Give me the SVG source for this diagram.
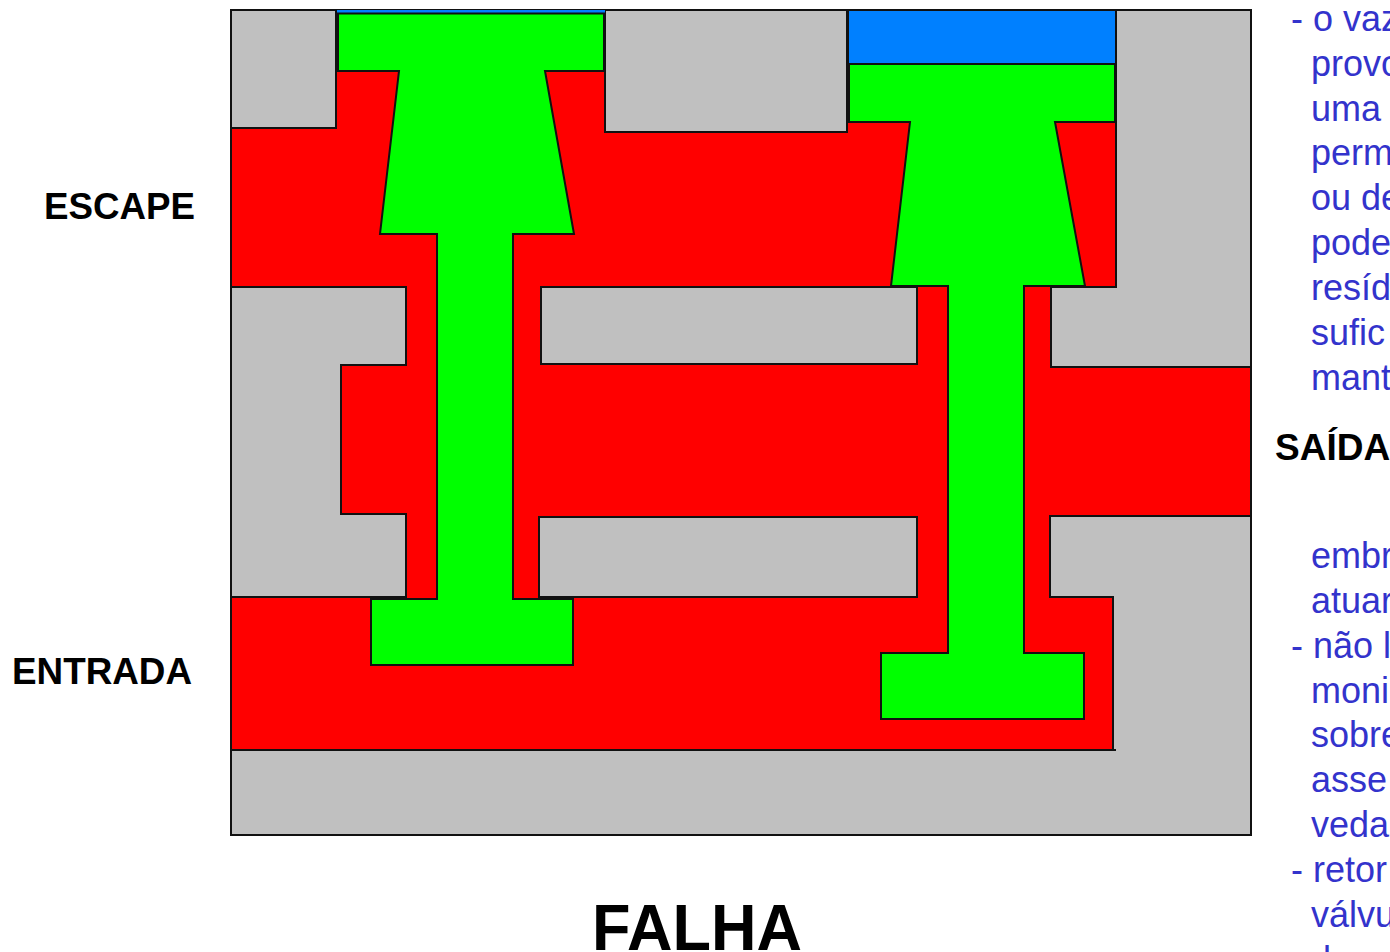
<svg xmlns="http://www.w3.org/2000/svg" width="1390" height="952" viewBox="0 0 1390 952">
<style>
.s{stroke:#111;stroke-width:2;stroke-linejoin:miter}
.g{fill:#c0c0c0}.r{fill:#f00}.v{fill:#0f0}.b{fill:#0080ff}
text{font-family:"Liberation Sans",Arial,sans-serif}
.l{font-weight:bold;font-size:37px;fill:#000}
.t{font-size:36px;fill:#3333cc}
</style>
<rect width="1390" height="952" fill="#fff"/>
<g id="body">
<rect class="g s" x="231" y="10" width="1020" height="825"/>
<path class="r s" d="M231 128H336V10H605V132H847V10H1116V287H1051V367H1251V516H1050V597H1113V750H231V597H406V514H341V365H406V287H231Z"/>
<rect class="g s" x="541" y="287" width="376" height="77"/>
<rect class="g s" x="539" y="517" width="378" height="80"/>
<path class="s" fill="none" d="M1113 750H1116"/>
</g>
<g id="valve-left">
<rect x="337" y="10" width="268" height="3.5" fill="#0080ff"/>
<path class="v s" d="M338 13.500H604V71H545L574 234H513V599H573V665H371V599H437V234H380L399 71H338Z"/>
</g>
<g id="valve-right">
<rect class="b s" x="848" y="10" width="268" height="54"/>
<path class="v s" d="M849 64H1115V122H1055L1085 286H1024V653H1084V719H881V653H948V286H891L910 122H849Z"/>
</g>
<g id="labels">
<text class="l" x="44" y="219" textLength="151" lengthAdjust="spacingAndGlyphs">ESCAPE</text>
<text class="l" x="12" y="684" textLength="180" lengthAdjust="spacingAndGlyphs">ENTRADA</text>
<text class="l" x="1275" y="460">SAÍDA</text>
<text x="592" y="950" font-size="64" font-weight="bold" fill="#000" textLength="210" lengthAdjust="spacingAndGlyphs">FALHA</text>
</g>
<g id="notes" class="t">
<text class="t" x="1291" y="31">- o vaz</text>
<text class="t" x="1311" y="76">provo</text>
<text class="t" x="1311" y="121">uma</text>
<text class="t" x="1311" y="165">perm</text>
<text class="t" x="1311" y="210">ou de</text>
<text class="t" x="1311" y="255">pode</text>
<text class="t" x="1311" y="300">resíd</text>
<text class="t" x="1311" y="345">sufic</text>
<text class="t" x="1311" y="390">mant</text>
<text class="t" x="1311" y="568">embr</text>
<text class="t" x="1311" y="613">atuar</text>
<text class="t" x="1291" y="658">- não l</text>
<text class="t" x="1311" y="703">moni</text>
<text class="t" x="1311" y="747">sobre</text>
<text class="t" x="1311" y="792">asse</text>
<text class="t" x="1311" y="837">veda</text>
<text class="t" x="1291" y="882">- retor</text>
<text class="t" x="1311" y="927">válvu</text>
<text class="t" x="1311" y="972">d</text>
</g>
</svg>
